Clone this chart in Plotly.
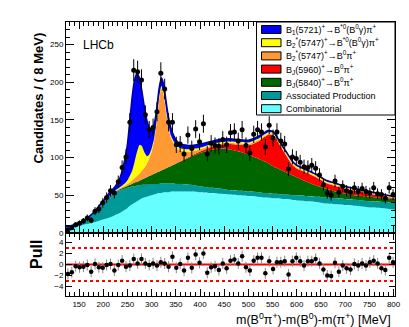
import plotly.graph_objects as go

# ---------------- data ----------------
bin_centers = list(range(127, 800, 8))  # 8 MeV bins
data_counts = [4, 7, 11, 13, 16, 20, 17, 29, 32, 40, 47, 56, 53, 68, 87, 101, 147, 216, 214, 203,
               157, 137, 140, 161, 212, 191, 147, 147, 117, 118, 105, 130, 112, 138, 121, 145, 105, 119, 116, 115,
               124, 117, 133, 134, 122, 137, 116, 106, 131, 137, 134, 114, 143, 126, 134, 122, 118, 85, 101, 99,
               94, 88, 87, 90, 86, 77, 64, 53, 50, 69, 54, 62, 56, 54, 60, 55, 59, 55, 53, 60,
               52, 51, 46, 60, 51]
pull_values = [-1.7, -1.4, -0.3, -0.5, -0.4, -0.1, -1.3, 0.1, -0.5, -0.6, -0.1, 0.1, -1.1, -0.1, 0.7, -0.4, -0.2, 1.0, 0.2, 1.0,
               0.2, -0.1, 0.2, -0.2, 0.4, 0.2, -0.4, 1.4, -0.6, 0.1, -1.1, 1.2, -0.6, 1.8, 0.3, 2.0, -1.5, -0.5, -0.3, -1.0,
               0.2, -0.7, 0.7, 0.9, 0.2, 1.5, -0.5, -1.1, 0.7, 1.2, 1.2, -1.6, 0.6, -0.8, 0.4, 0.4, 0.6, -1.8, 0.6, 1.2,
               0.6, -0.2, 0.6, 0.6, 1.0, 0.2, -0.9, -2.0, -2.1, 0.3, -1.3, -0.2, -0.7, -0.9, 0.1, -0.2, 0.2, -0.2, 0.4, 0.7,
               0.2, -0.7, -1.0, 1.2, 0.4]

# fit curve sample points (MeV) and upper edges of each stacked component
curve_x = [123, 140, 160, 180, 200, 215, 225, 235, 245, 250, 255, 260, 265, 270, 275, 280, 285, 290, 295, 300,
           305, 310, 315, 320, 325, 330, 335, 340, 350, 360, 380, 400, 420, 440, 460, 480, 500, 520, 530, 540,
           550, 560, 570, 580, 590, 600, 620, 640, 660, 680, 700, 720, 750, 780, 803]
edge_combinatorial = [6, 8, 11, 14, 18, 21, 24, 27, 31, 33, 36, 38, 40, 42, 44, 46, 47, 48, 49, 50,
                      51, 52, 53, 53, 54, 54, 54, 55, 55, 55, 55, 54, 53, 52, 51, 50, 49, 48, 47, 47,
                      46, 46, 45, 45, 44, 43, 42, 41, 39, 38, 37, 36, 34, 33, 31]
edge_associated = [7.5, 11, 17, 27, 41, 50, 54, 57, 59, 60, 61, 62, 62, 63, 63, 64, 64, 64, 65, 65,
                   65, 65, 65, 66, 66, 66, 66, 66, 65, 65, 64, 62, 60, 59, 57, 56, 55, 54, 53, 53,
                   52, 52, 51, 51, 50, 50, 49, 48, 47, 46, 45, 44, 42, 41, 40]
edge_bj5840 = [7.5, 11, 17, 27, 41, 50.3, 55, 58.5, 61, 62.5, 64, 65.5, 67, 68, 69.5, 71, 72.5, 74, 75.5, 77,
               78.5, 80, 81.5, 83, 84.5, 86, 87.5, 89, 92, 95, 101, 106, 110, 112, 111, 108, 104, 99, 96, 93,
               89, 86, 83, 80, 77, 74, 68, 63, 59, 55, 52, 50, 48, 46, 45]
edge_bj5960 = [7.5, 11, 17, 27, 41, 50.3, 55, 58.5, 61, 62.5, 64, 65.5, 67, 68, 69.5, 71, 72.5, 74, 75.5, 77,
               78.5, 80, 81.5, 83, 84.5, 86, 87.5, 89, 92.3, 95.5, 102, 108, 113, 117, 118, 117, 116, 121, 126, 130,
               130, 122, 111, 101, 91, 85.5, 80, 74, 66.5, 62.5, 59, 56, 52, 48.5, 46]
edge_b2_bpi = [7.5, 11, 17, 27, 41, 50.3, 55.5, 59.5, 63, 65, 67, 70, 73, 76, 79, 83, 87, 92, 99, 108,
               122, 145, 175, 192, 183, 160, 140, 126, 114, 109, 108, 111, 115, 118.5, 119.5, 119, 118, 123, 127.5, 131.5,
               131.5, 123.5, 112.5, 102.5, 92.5, 87, 81, 75, 67.5, 63.5, 60, 57, 53, 49.5, 47]
edge_b2_bstarpi = [7.5, 11, 17, 27, 41, 50.3, 56.5, 61, 66, 70, 76, 83, 95, 108, 117, 115, 107, 102, 104, 112,
                   125, 148, 178, 195, 186, 163, 143, 129, 117, 112, 111, 113, 117, 120.5, 121.5, 121, 120, 125, 129.5, 133.5,
                   133.5, 125.5, 114.5, 104.5, 94.5, 88.5, 82.5, 76.5, 69, 65, 61, 58, 54, 50.5, 47.5]
edge_total = [8, 11, 17, 27, 43, 55, 62, 74, 99, 118, 150, 182, 204, 212, 205, 188, 167, 150, 140, 137,
              144, 162, 190, 206, 197, 174, 153, 139, 124, 118, 116, 118, 121, 124, 125, 124, 123, 128, 132, 136,
              135, 127, 116, 106, 96, 90, 84, 78, 70, 66, 62, 59, 55, 51, 48]

pull_reference = [-3, 0, 3]

legend_labels = [
    "B<sub>1</sub>(5721)<sup>+</sup>→B<sup>*0</sup>(B<sup>0</sup>γ)π<sup>+</sup>",
    "B<sub>2</sub><sup>*</sup>(5747)<sup>+</sup>→B<sup>*0</sup>(B<sup>0</sup>γ)π<sup>+</sup>",
    "B<sub>2</sub><sup>*</sup>(5747)<sup>+</sup>→B<sup>0</sup>π<sup>+</sup>",
    "B<sub>J</sub>(5960)<sup>+</sup>→B<sup>0</sup>π<sup>+</sup>",
    "B<sub>J</sub>(5840)<sup>+</sup>→B<sup>0</sup>π<sup>+</sup>",
    "Associated Production",
    "Combinatorial",
]

C_BLUE, C_YEL, C_ORA, C_RED, C_GRN, C_TEAL, C_CYAN = (
    "#0000ff", "#ffff00", "#ff9933", "#ff0000", "#006600", "#009999", "#66ffff")
legend_colors = [C_BLUE, C_YEL, C_ORA, C_RED, C_GRN, C_TEAL, C_CYAN]

# ---------------- geometry ----------------
W, H = 409, 327
L, R, T, B = 58, 387, 14, 288


def px(x):
    return (x - L) / (R - L)


def py(y):
    return (B - y) / (B - T)


FONT = "Liberation Sans, Arial, Helvetica, sans-serif"
fig = go.Figure()

stack = [
    (edge_combinatorial, C_CYAN, "tozeroy"),
    (edge_associated, C_TEAL, "tonexty"),
    (edge_bj5840, C_GRN, "tonexty"),
    (edge_bj5960, C_RED, "tonexty"),
    (edge_b2_bpi, C_ORA, "tonexty"),
    (edge_b2_bstarpi, C_YEL, "tonexty"),
    (edge_total, C_BLUE, "tonexty"),
]
for edge, col, fl in stack:
    fig.add_trace(go.Scatter(x=curve_x, y=edge, mode="lines", fill=fl, fillcolor=col,
                             line=dict(width=0, color=col, shape="spline", smoothing=0.5),
                             hoverinfo="skip", showlegend=False, xaxis="x", yaxis="y"))
fig.add_trace(go.Scatter(x=curve_x, y=edge_total, mode="lines",
                         line=dict(width=1.5, color="#000099", shape="spline", smoothing=0.5),
                         showlegend=False, xaxis="x", yaxis="y"))

fig.add_trace(go.Scatter(x=bin_centers, y=data_counts, mode="markers",
                         marker=dict(color="black", size=5),
                         error_y=dict(type="sqrt", color="black", thickness=1, width=0),
                         showlegend=False, xaxis="x", yaxis="y"))

# pull panel
for v in pull_reference:
    fig.add_trace(go.Scatter(x=[123, 803], y=[v, v], mode="lines",
                             line=dict(color="red", width=2, dash="solid" if v == 0 else "dot"),
                             showlegend=False, xaxis="x2", yaxis="y2"))
fig.add_trace(go.Scatter(x=bin_centers, y=pull_values, mode="markers",
                         marker=dict(color="black", size=4.5),
                         error_y=dict(type="constant", value=1, color="#888888", thickness=1, width=0),
                         showlegend=False, xaxis="x2", yaxis="y2"))

axis_common = dict(showline=True, linecolor="black", linewidth=1, mirror="ticks",
                   ticks="inside", tickcolor="black", showgrid=False, zeroline=False,
                   tickfont=dict(family=FONT, size=8, color="black"))
pull_frac = py(225)

fig.update_layout(
    width=W, height=H,
    margin=dict(l=L, r=W - R, t=T, b=H - B, pad=0),
    paper_bgcolor="white", plot_bgcolor="white",
    xaxis=dict(domain=[0, 1], range=[123, 803], anchor="y", showticklabels=False,
               tick0=0, dtick=50, ticklen=7, minor=dict(ticks="inside", dtick=10, ticklen=4, tickcolor="black"),
               **axis_common),
    yaxis=dict(domain=[pull_frac, 1], range=[0, 280], anchor="x", tick0=0, dtick=50, ticklen=8,
               minor=dict(ticks="inside", dtick=10, ticklen=4, tickcolor="black"),
               **axis_common),
    xaxis2=dict(domain=[0, 1], range=[123, 803], anchor="y2", matches="x", showticklabels=True,
                tick0=0, dtick=50, ticklen=7, minor=dict(ticks="inside", dtick=10, ticklen=4, tickcolor="black"),
                **axis_common),
    yaxis2=dict(domain=[0, pull_frac], range=[-5.7, 5.7], anchor="x2", tickvals=[-4, -2, 0, 2, 4], ticklen=6,
                **axis_common),
)

shapes = []
annotations = []
# legend box
shapes.append(dict(type="rect", xref="paper", yref="paper", x0=px(248.5), x1=px(387), y0=py(107), y1=py(14),
                   line=dict(color="black", width=1), fillcolor="white", layer="above"))
for i, (lab, col) in enumerate(zip(legend_labels, legend_colors)):
    yc = 21.5 + 13.2 * i
    shapes.append(dict(type="rect", xref="paper", yref="paper", x0=px(253.5), x1=px(273), y0=py(yc + 4),
                       y1=py(yc - 4), line=dict(color="black", width=1), fillcolor=col, layer="above"))
    annotations.append(dict(x=px(276), y=py(yc), xref="paper", yref="paper", text=lab, showarrow=False,
                            xanchor="left", yanchor="middle", font=dict(family=FONT, size=9, color="black")))

annotations += [
    dict(x=px(73), y=py(36.5), xref="paper", yref="paper", text="LHCb", showarrow=False,
         xanchor="left", yanchor="middle", font=dict(family=FONT, size=12, color="black")),
    dict(x=px(30), y=py(23), xref="paper", yref="paper", text="<b>Candidates / ( 8 MeV)</b>", showarrow=False,
         textangle=-90, xanchor="center", yanchor="top", font=dict(family=FONT, size=13, color="black")),
    dict(x=px(28), y=py(247), xref="paper", yref="paper", text="<b>Pull</b>", showarrow=False,
         textangle=-90, xanchor="center", yanchor="middle", font=dict(family=FONT, size=16, color="black")),
    dict(x=px(385), y=py(311), xref="paper", yref="paper",
         text="m(B<sup>0</sup>π<sup>+</sup>)-m(B<sup>0</sup>)-m(π<sup>+</sup>) [MeV]", showarrow=False,
         xanchor="right", yanchor="middle", font=dict(family=FONT, size=12.5, color="black")),
]
fig.update_layout(shapes=shapes, annotations=annotations)

fig.write_html("out.html")
